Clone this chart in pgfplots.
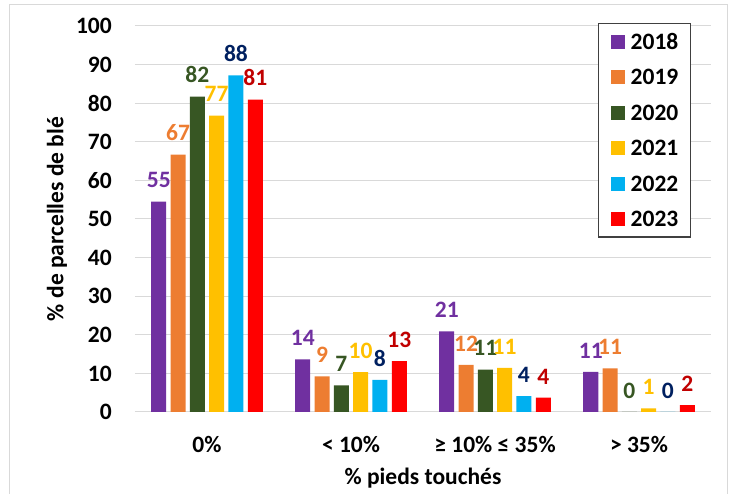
\documentclass[border=0pt]{standalone}
\usepackage{fontspec}
\setmainfont{Carlito}
\usepackage{pgfplots}
\pgfplotsset{compat=1.18}
\definecolor{c2018}{RGB}{112,48,160}
\definecolor{c2019}{RGB}{237,125,49}
\definecolor{c2020}{RGB}{55,86,35}
\definecolor{c2021}{RGB}{255,192,0}
\definecolor{c2022}{RGB}{0,176,240}
\definecolor{c2023}{RGB}{255,0,0}
\definecolor{lab2022}{RGB}{0,32,96}
\definecolor{lab2023}{RGB}{192,0,0}
\definecolor{gridgray}{RGB}{217,217,217}
\newcommand{\cf}{\fontsize{23.5}{28}\selectfont\bfseries}
\begin{document}
\begin{tikzpicture}
\path[use as bounding box] (0,0) rectangle (734pt,494pt);
\draw[gridgray, line width=1pt] (9pt,-10pt) rectangle (727pt,489pt);
\begin{axis}[at={(135pt,82pt)}, anchor=south west, scale only axis,
  width=576pt, height=386pt,
  ybar=4.3pt, bar width=15pt,
  xmin=-0.5, xmax=3.5, ymin=0, ymax=100,
  xtick={0,1,2,3}, xticklabels={0\%, < 10\%, ≥ 10\% ≤ 35\%, > 35\%},
  ytick={0,10,...,100},
  ymajorgrids, grid style={gridgray, line width=1pt},
  axis line style={draw=none}, major tick length=0pt,
  tick label style={font=\cf},
  /pgf/number format/assume math mode=true,
  xticklabel style={anchor=north, inner sep=0pt, yshift=-24pt},
  yticklabel style={anchor=east, inner sep=0pt, xshift=-23pt},
  xlabel={\% pieds touchés}, ylabel={\% de parcelles de blé},
  every axis x label/.style={at={(axis description cs:0.5,-0.171)}, anchor=center, font=\cf},
  every axis y label/.style={at={(axis description cs:-0.1354,0.5)}, anchor=center, rotate=90, font=\cf},
  nodes near coords, point meta=explicit symbolic,
  every node near coord/.append style={font=\cf, anchor=south, inner sep=0pt, yshift=13.5pt},
  legend style={at={(axis description cs:0.804,1.008)}, anchor=north west,
    draw=black!75, line width=1.2pt, fill=white, font=\cf,
    inner xsep=12pt, inner ysep=10.5pt, row sep=20.5pt, column sep=6pt,
    nodes={inner sep=0pt, text height=15pt, text depth=0pt}},
  legend image code/.code={\fill[#1] (0pt,-7pt) rectangle (14pt,7pt);},
]
\addplot[fill=c2018, draw=none, every node near coord/.append style={text=c2018}]
  coordinates {(0,54.5) [55] (1,13.6) [14] (2,20.9) [21] (3,10.4) [11]};
\addlegendentry{2018}
\addplot[fill=c2019, draw=none, every node near coord/.append style={text=c2019}]
  coordinates {(0,66.7) [67] (1,9.2) [9] (2,12.2) [12] (3,11.3) [11]};
\addlegendentry{2019}
\addplot[fill=c2020, draw=none, every node near coord/.append style={text=c2020}]
  coordinates {(0,81.7) [82] (1,6.9) [7] (2,11.0) [11] (3,0) [0]};
\addlegendentry{2020}
\addplot[fill=c2021, draw=none, every node near coord/.append style={text=c2021}]
  coordinates {(0,76.8) [77] (1,10.3) [10] (2,11.4) [11] (3,0.95) [1]};
\addlegendentry{2021}
\addplot[fill=c2022, draw=none, every node near coord/.append style={text=lab2022}]
  coordinates {(0,87.2) [88] (1,8.3) [8] (2,4.1) [4] (3,0) [0]};
\addlegendentry{2022}
\addplot[fill=c2023, draw=none, every node near coord/.append style={text=lab2023}]
  coordinates {(0,80.9) [81] (1,13.2) [13] (2,3.7) [4] (3,1.8) [2]};
\addlegendentry{2023}
\end{axis}
\end{tikzpicture}
\end{document}
